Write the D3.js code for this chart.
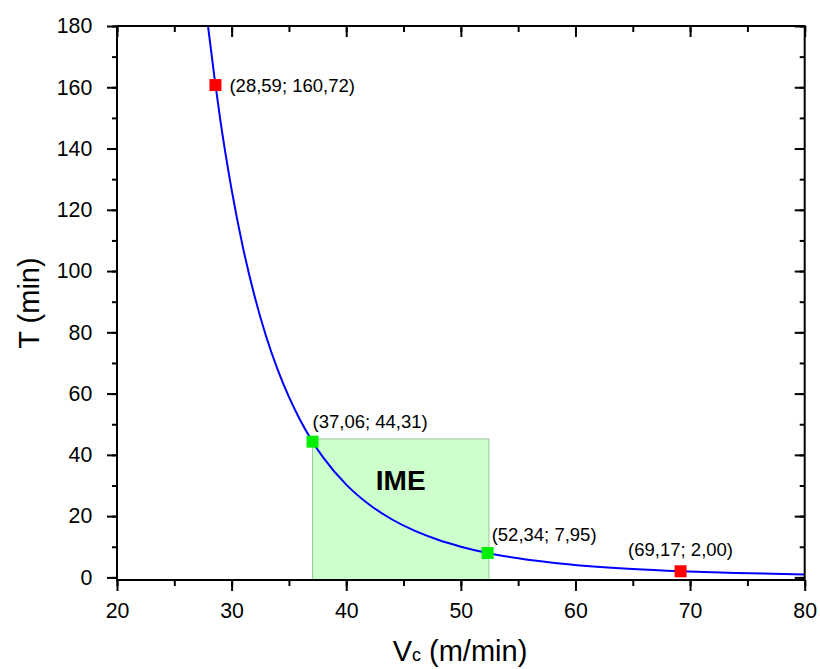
<!DOCTYPE html>
<html><head><meta charset="utf-8">
<script src="https://cdn.jsdelivr.net/npm/d3@7"></script>
<style>body{margin:0;background:#fff}svg{display:block}text{font-family:"Liberation Sans",Arial,sans-serif}</style>
</head><body><svg id="c" width="820" height="669"></svg>
<script>
// Tool-life curve
const curveV = [27.94, 28.5, 29, 30, 31, 32, 33, 34, 35, 36, 37.06, 38, 40, 42, 44, 46, 48, 50, 52.34, 55, 58, 61, 65, 69.17, 74, 80];
const curveT = [180, 163.3, 149.7, 126.6, 107.5, 91.9, 78.8, 68.0, 58.9, 51.2, 44.31, 39.1, 30.3, 23.8, 18.9, 15.16, 12.27, 10.02, 7.95, 6.24, 4.79, 3.73, 2.72, 2.00, 1.43, 0.97];
// Marked points
const pointV = [28.59, 37.06, 52.34, 69.17];
const pointT = [160.72, 44.31, 7.95, 2.00];
const pointLabel = ["(28,59; 160,72)", "(37,06; 44,31)", "(52,34; 7,95)", "(69,17; 2,00)"];
const pointColor = ["#ff0000", "#00ee00", "#00ee00", "#ff0000"];
// IME zone
const imeV = [37.06, 52.45];
const imeT = [0, 45.2];
const xTicks = [20, 30, 40, 50, 60, 70, 80];
const yTicks = [0, 20, 40, 60, 80, 100, 120, 140, 160, 180];

const svg = d3.select("#c");
const L = 117, R = 804.7, T = 26, B = 580;
const x = d3.scaleLinear().domain([20, 80]).range([L, R]);
const y = d3.scaleLinear().domain([-0.85, 180]).range([B, T]);

// IME rectangle
svg.append("rect")
  .attr("x", x(imeV[0])).attr("y", y(imeT[1]))
  .attr("width", x(imeV[1]) - x(imeV[0]))
  .attr("height", B - y(imeT[1]))
  .attr("fill", "#ccffcc").attr("stroke", "#9cc89c").attr("stroke-width", 1);
svg.append("text").attr("x", x(44.75)).attr("y", y(28.5))
  .attr("text-anchor", "middle").attr("font-size", 28).attr("font-weight", "bold").text("IME");

// curve
const line = d3.line().x(d => x(d[0])).y(d => y(d[1])).curve(d3.curveMonotoneX);
svg.append("path").datum(curveV.map((v, i) => [v, curveT[i]]))
  .attr("d", line).attr("fill", "none").attr("stroke", "#0000ff").attr("stroke-width", 2);

// axes with ticks
const xMinor = d3.range(20, 80.01, 5);
const yMinor = d3.range(0, 180.01, 10);
function axisGroup(axis, tx, ty) { return svg.append("g").attr("transform", `translate(${tx},${ty})`).call(axis); }

const gx = axisGroup(d3.axisBottom(x).tickValues(xTicks).tickSize(11).tickPadding(12).tickFormat(d3.format("d")), 0, B);
const gxm = axisGroup(d3.axisBottom(x).tickValues(xMinor).tickSize(6).tickFormat(""), 0, B);
const gxt = axisGroup(d3.axisBottom(x).tickValues(xTicks).tickSize(11).tickFormat(""), 0, T);
const gxtm = axisGroup(d3.axisBottom(x).tickValues(xMinor).tickSize(6).tickFormat(""), 0, T);
const gy = axisGroup(d3.axisLeft(y).tickValues(yTicks).tickSize(10).tickPadding(14.7).tickFormat(d3.format("d")), L, 0);
const gym = axisGroup(d3.axisLeft(y).tickValues(yMinor).tickSize(5).tickFormat(""), L, 0);
const gyr = axisGroup(d3.axisLeft(y).tickValues(yTicks).tickSize(10).tickFormat(""), R, 0);
const gyrm = axisGroup(d3.axisLeft(y).tickValues(yMinor).tickSize(5).tickFormat(""), R, 0);
[gx, gxm, gxt, gxtm, gy, gym, gyr, gyrm].forEach(g => {
  g.select(".domain").remove();
  g.selectAll("line").attr("stroke", "#000").attr("stroke-width", 2);
  g.selectAll("text").attr("font-family", "Liberation Sans, Arial, sans-serif").attr("font-size", 21.3).attr("fill", "#000");
});
// frame
svg.append("rect").attr("x", L).attr("y", T).attr("width", R - L).attr("height", B - T)
  .attr("fill", "none").attr("stroke", "#000").attr("stroke-width", 2);

// points
svg.selectAll("rect.pt").data(pointV).enter().append("rect").attr("class", "pt")
  .attr("x", d => x(d) - 6).attr("y", (d, i) => y(pointT[i]) - 6)
  .attr("width", 12).attr("height", 12).attr("fill", (d, i) => pointColor[i]);
const lblOff = [[14, 7, "start"], [0, -14, "start"], [4, -12, "start"], [0, -15, "middle"]];
svg.selectAll("text.lbl").data(pointV).enter().append("text").attr("class", "lbl")
  .attr("x", (d, i) => x(d) + lblOff[i][0]).attr("y", (d, i) => y(pointT[i]) + lblOff[i][1])
  .attr("text-anchor", (d, i) => lblOff[i][2]).attr("font-size", 18.5).attr("fill", "#000")
  .text((d, i) => pointLabel[i]);

// axis titles
const xt = svg.append("text").attr("x", 460).attr("y", 661).attr("text-anchor", "middle").attr("font-size", 29);
xt.append("tspan").text("V");
xt.append("tspan").attr("font-size", 18).text("c");
xt.append("tspan").text(" (m/min)");
svg.append("text").attr("transform", `translate(39,${(T + B) / 2}) rotate(-90)`)
  .attr("text-anchor", "middle").attr("font-size", 29).text("T (min)");
</script></body></html>
